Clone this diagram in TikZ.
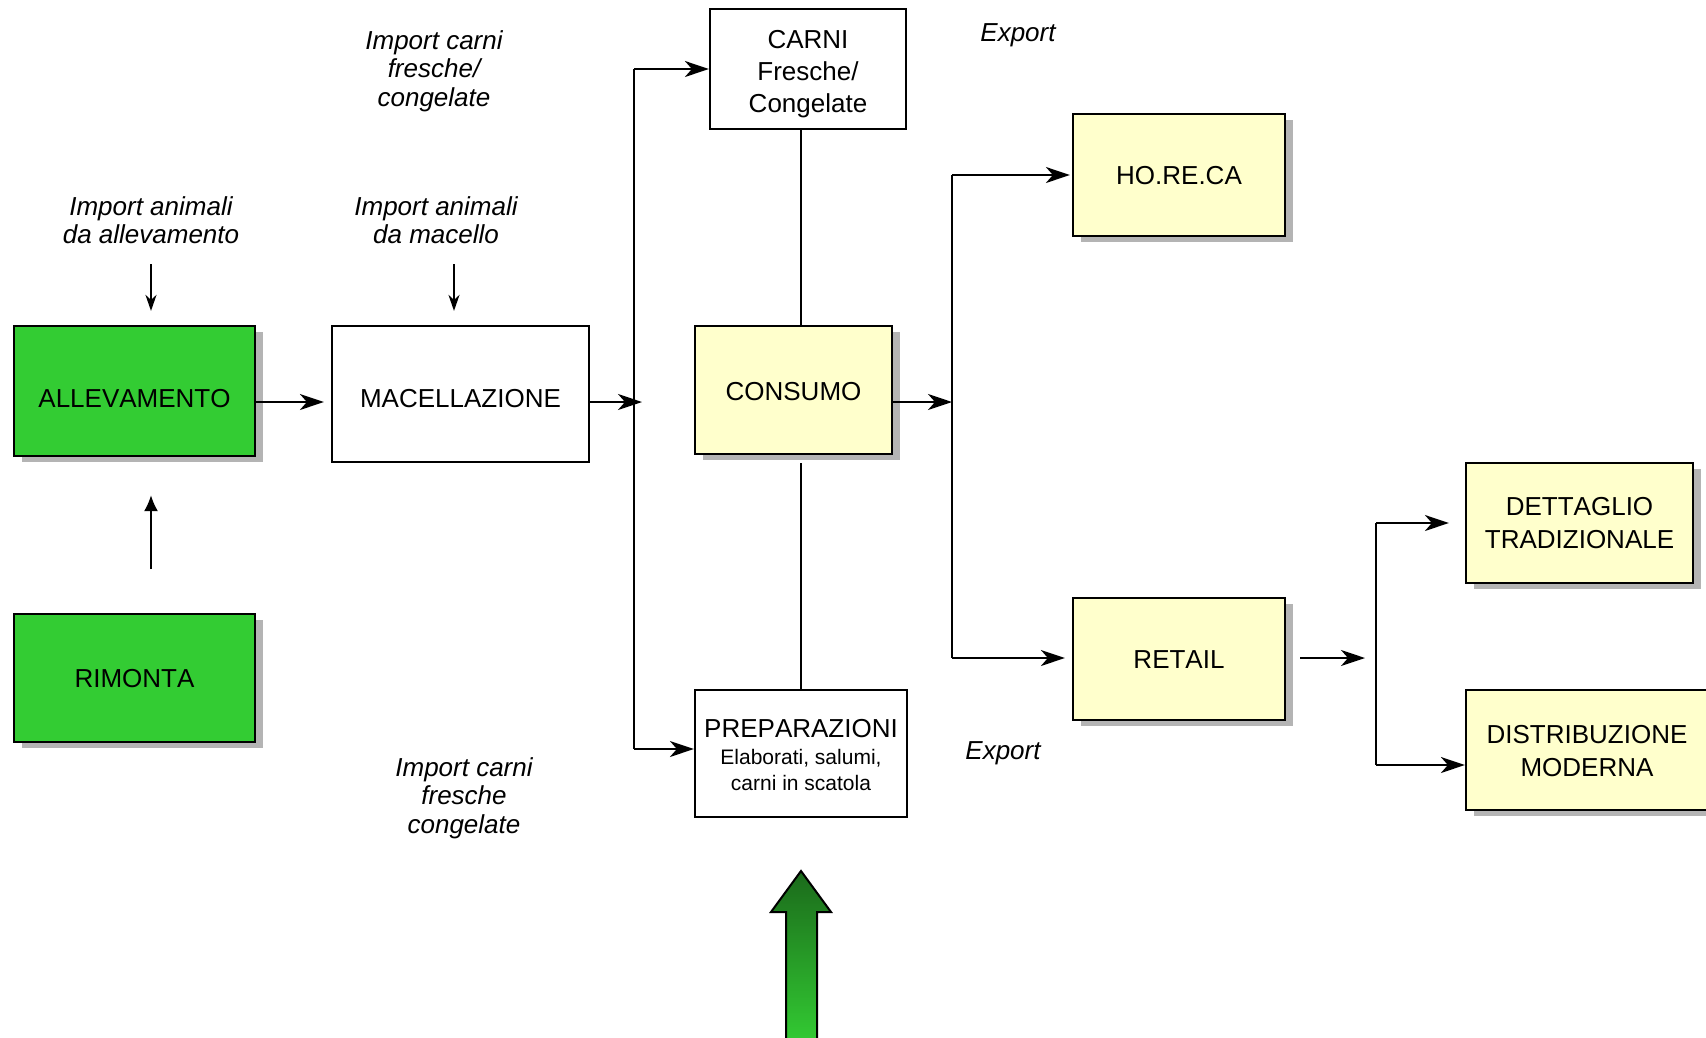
\documentclass[tikz,border=0pt]{standalone}
\usepackage{fontspec}
\setmainfont{Liberation Sans}[Kerning=Off]
\usetikzlibrary{arrows.meta,shadows,calc}

\definecolor{boxgreen}{HTML}{33CC33}
\definecolor{boxyellow}{HTML}{FFFFCC}
\definecolor{shadowgray}{HTML}{B4B4B4}
\definecolor{arrowdark}{HTML}{1B6A1B}
\definecolor{arrowlight}{HTML}{33CC33}

\begin{document}
\begin{tikzpicture}[x=1pt,y=-1pt,
  box/.style={draw=black, line width=2.2pt, rectangle, align=center, inner sep=0pt,
    font=\fontsize{26}{33}\selectfont},
  shadowed/.style={drop shadow={shadow xshift=8pt, shadow yshift=-6pt, fill=shadowgray, opacity=1}},
  greenbox/.style={box, shadowed, fill=boxgreen},
  yellowbox/.style={box, shadowed, fill=boxyellow},
  whitebox/.style={box, fill=white},
  % the (last) baseline sits half of the given height below the centre of a box
  lower/.style={text height=#1, text depth=0pt},
  lbl/.style={align=center, inner sep=0pt, font=\itshape\fontsize{26}{28.5}\selectfont},
  conn/.style={line width=2pt, draw=black},
  flow/.style={conn, -{Stealth[length=24pt, width=16pt, inset=7pt]}},
  small/.style={conn, -{Stealth[length=16pt, width=11pt, inset=5pt]}},
  solid tip/.style={conn, -{Latex[length=16pt, width=14pt]}}
]
\useasboundingbox (0,0) rectangle (1706,1037);

% ---- boxes ----
\node[greenbox, lower=33.4pt, minimum width=241, minimum height=130] (allev) at (134.5,391) {ALLEVAMENTO};
\node[whitebox, lower=27.4pt, minimum width=257, minimum height=136] (macel) at (460.5,394) {MACELLAZIONE};
\node[greenbox, lower=19.6pt, minimum width=241, minimum height=128] (rimonta) at (134.5,678) {RIMONTA};
\node[whitebox, lower=86pt, minimum width=196, minimum height=120,
  font=\fontsize{26}{32}\selectfont] (carni) at (808,69) {CARNI\\Fresche/\\Congelate};
\node[yellowbox, lower=21.4pt, minimum width=197, minimum height=128] (consumo) at (793.5,390) {CONSUMO};
\node[whitebox, lower=73pt, minimum width=212, minimum height=127] (prep) at (801,753.5)
  {PREPARAZIONI\\[-6pt]{\fontsize{21}{26}\selectfont Elaborati, salumi,}\\[-7.5pt]{\fontsize{21}{26}\selectfont carni in scatola}};
\node[yellowbox, lower=19pt, minimum width=212, minimum height=122] (horeca) at (1179,175) {HO.RE.CA};
\node[yellowbox, lower=18pt, minimum width=212, minimum height=122] (retail) at (1179,659) {RETAIL};
\node[yellowbox, lower=50pt, minimum width=227, minimum height=120] (dett) at (1579.5,523) {DETTAGLIO\\TRADIZIONALE};
\node[yellowbox, lower=53.4pt, minimum width=242, minimum height=120] (distr) at (1587,750) {DISTRIBUZIONE\\MODERNA};

% ---- labels ----
\node[lbl] (impcarni1) at (434,71) {Import carni\\fresche/\\congelate};
\node[lbl] (impall) at (151,220) {Import animali\\da allevamento};
\node[lbl] (impmac) at (436,220) {Import animali\\da macello};
\node[lbl] (exp1) at (1018,35) {Export};
\node[lbl] (exp2) at (1003,753) {Export};
\node[lbl] (impcarni2) at (464,798) {Import carni\\fresche\\congelate};

% ---- junction points ----
\coordinate (mainrow) at (0,402);
\coordinate (trunkA) at (634,402);
\coordinate (trunkAtop) at (634,69);
\coordinate (trunkAbot) at (634,749);
\coordinate (trunkB) at (952,402);
\coordinate (trunkBtop) at (952,175);
\coordinate (trunkBbot) at (952,658);
\coordinate (trunkCtop) at (1376,523);
\coordinate (trunkCbot) at (1376,765);
\coordinate (spine) at (801,0);
\coordinate (dropA) at (151,264);
\coordinate (dropB) at (454,264);
\coordinate (riseA) at (151,569);

% ---- connectors ----
\draw[small, shorten >=14pt] (dropA) -- (allev.north -| dropA);
\draw[small, shorten >=14pt] (dropB) -- (macel.north -| dropB);
\draw[solid tip, shorten >=38pt] (riseA) -- (allev.south -| riseA);

\draw[flow, shorten >=7pt] (allev.east |- mainrow) -- (macel.west |- mainrow);
\draw[flow] (macel.east |- mainrow) -- ($(trunkA)+(8,0)$);
\draw[conn] (trunkAtop) -- (trunkAbot);
\draw[flow] (trunkAtop) -- (carni.west |- trunkAtop);
\draw[flow] (trunkAbot) -- (prep.west |- trunkAbot);

\draw[conn] (carni.south -| spine) -- (consumo.north -| spine);
\draw[conn] ($(consumo.south -| spine)+(0,8)$) -- (prep.north -| spine);

\draw[flow] (consumo.east |- mainrow) -- (trunkB);
\draw[conn] (trunkBtop) -- (trunkBbot);
\draw[flow, shorten >=2pt] (trunkBtop) -- (horeca.west |- trunkBtop);
\draw[flow, shorten >=7pt] (trunkBbot) -- (retail.west |- trunkBbot);

\draw[flow] ($(retail.east |- trunkBbot)+(14,0)$) -- ($(trunkCtop |- trunkBbot)+(-11,0)$);
\draw[conn] (trunkCtop) -- (trunkCbot);
\draw[flow, shorten >=16pt] (trunkCtop) -- (dett.west |- trunkCtop);
\draw[flow] (trunkCbot) -- (distr.west |- trunkCbot);

% ---- large green arrow ----
\shade[top color=arrowdark, bottom color=arrowlight, draw=black, line width=2pt, line join=miter]
  (801,871) -- (831,912) -- (817,912) -- (817,1045) -- (786,1045) -- (786,912) -- (771,912) -- cycle;
\end{tikzpicture}
\end{document}
